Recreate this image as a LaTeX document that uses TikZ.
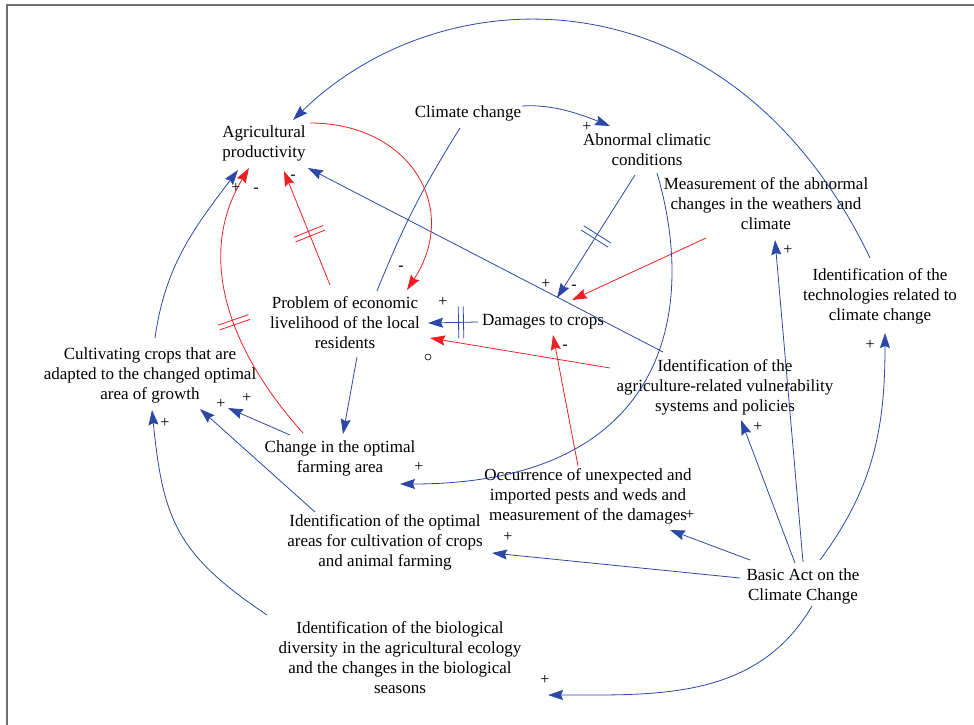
\documentclass[tikz,border=0pt]{standalone}
\usepackage{fontspec}
\setmainfont{Liberation Serif}
\usetikzlibrary{arrows.meta,decorations.markings}

\definecolor{linkblue}{RGB}{44,72,166}
\definecolor{linkred}{RGB}{236,32,36}
\definecolor{framegray}{RGB}{110,110,110}

\begin{document}
\begin{tikzpicture}[x=1pt,y=1pt,
    var/.style={align=center,inner sep=2pt,font=\fontsize{17}{20}\selectfont},
    poslink/.style={-{Stealth[length=15pt,width=10pt,inset=2pt]},linkblue,line width=0.8pt},
    neglink/.style={-{Stealth[length=15pt,width=10pt,inset=2pt]},linkred,line width=0.8pt},
    sign/.style={font=\fontsize{16}{16}\selectfont,inner sep=0pt},
    delay/.style={postaction={decorate,decoration={markings,mark=at position #1 with
        {\draw[-,line width=0.8pt] (-2.5pt,-16pt) -- (-2.5pt,16pt) (2.5pt,-16pt) -- (2.5pt,16pt);}}}}]
                \useasboundingbox (0,0) rectangle (974,-725);
                \draw[framegray,line width=1.2pt] (7,-725) -- (7,-5) -- (974,-5);
                \node[var](agri)at(264,-143){Agricultural\\productivity};
                \node[var](clim)at(468,-113){Climate change};
                \node[var](abn)at(647,-150){Abnormal climatic\\conditions};
                \node[var](meas)at(766,-204){Measurement of the abnormal\\changes in the weathers and\\climate};
                \node[var](tech)at(880,-296){Identification of the\\technologies related to\\climate change};
                \node[var](prob)at(345,-323){Problem of economic\\livelihood of the local\\residents};
                \node[var](dam)at(543,-322){Damages to crops};
                \node[var](cult)at(150,-375){Cultivating crops that are\\adapted to the changed optimal\\area of growth};
                \node[var](vuln)at(725,-387){Identification of the\\agriculture-related vulnerability\\systems and policies};
                \node[var](farm)at(340,-458){Change in the optimal\\farming area};
                \node[var](pest)at(588,-496){Occurrence of unexpected and\\imported pests and weds and\\measurement of the damages};
                \node[var](opt)at(385,-542){Identification of the optimal\\areas for cultivation of crops\\and animal farming};
                \node[var](act)at(803,-586){Basic Act on the\\Climate Change};
                \node[var](bio)at(400,-658){Identification of the biological\\diversity in the agricultural ecology\\and the changes in the biological\\seasons};
                \node[draw,circle,inner sep=0pt,minimum size=6pt,line width=0.6pt](knot)at(428,-357){};
                % links
                \draw[poslink] ([shift={(54,7)}]clim.center) .. controls +(30,2) and +(-30,12) .. ([shift={(-37,24)}]abn.center);
                \draw[poslink,-] ([shift={(-8,-15)}]clim.center) to[bend right=5] ([shift={(32,32)}]prob.center);
                \draw[poslink] ([shift={(12,-34)}]prob.center) -- ([shift={(3,24)}]farm.center);
                \draw[poslink,delay=0.5] ([shift={(-12,-25)}]abn.center) -- ([shift={(14,24)}]dam.center);
                \draw[neglink] ([shift={(-60,-34)}]meas.center) -- ([shift={(29,22)}]dam.center);
                \draw[poslink,delay=0.34] ([shift={(-65,0)}]dam.center) -- ([shift={(83,0)}]prob.center);
                \draw[neglink] ([shift={(-115,19)}]vuln.center) -- ([shift={(85,-15)}]prob.center);
                \draw[neglink] ([shift={(-10,30)}]pest.center) -- ([shift={(10,-13)}]dam.center);
                \draw[poslink] ([shift={(-62,35)}]vuln.center) -- ([shift={(44,-25)}]agri.center);
                \draw[neglink,delay=0.45] ([shift={(-15,38)}]prob.center) -- ([shift={(20,-28)}]agri.center);
                \draw[neglink,delay=0.45] ([shift={(-37,25)}]farm.center) .. controls +(-71,79) and +(-55,-91) .. ([shift={(-15,-25)}]agri.center);
                \draw[poslink] ([shift={(5,37)}]cult.center) .. controls +(10,72) and +(-44,-58) .. ([shift={(-26,-27)}]agri.center);
                \draw[neglink] ([shift={(46,20)}]agri.center) .. controls +(99,0) and +(54,83) .. ([shift={(62,33)}]prob.center);
                \draw[poslink] ([shift={(-50,23)}]farm.center) -- ([shift={(78,-33)}]cult.center);
                \draw[poslink] ([shift={(-70,30)}]opt.center) -- ([shift={(50,-34)}]cult.center);
                \draw[poslink] ([shift={(-133,43)}]bio.center) .. controls +(-91,61) and +(11,-109) .. ([shift={(2,-35)}]cult.center);
                \draw[poslink] ([shift={(-10,38)}]tech.center) .. controls +(-139,290) and +(152,148) .. ([shift={(29,23)}]agri.center);
                \draw[poslink] ([shift={(17,26)}]act.center) .. controls +(55,74) and +(0,-92) .. ([shift={(5,-37)}]tech.center);
                \draw[poslink] ([shift={(0,24)}]act.center) -- ([shift={(9,-36)}]meas.center);
                \draw[poslink] ([shift={(-8,23)}]act.center) -- ([shift={(16,-33)}]vuln.center);
                \draw[poslink] ([shift={(-53,26)}]act.center) -- ([shift={(82,-34)}]pest.center);
                \draw[poslink] ([shift={(-63,8)}]act.center) -- ([shift={(107,-11)}]opt.center);
                \draw[poslink] ([shift={(9,-20)}]act.center) .. controls +(-55,-94) and +(109,0) .. ([shift={(148,-37)}]bio.center);
                \draw[poslink] ([shift={(10,-23)}]abn.center) .. controls +(43,-147) and +(260,0) .. ([shift={(60,-26)}]farm.center);
                % polarities
                \node[sign](s1)at(587,-127){+};
                \node[sign](s2)at(236,-188){+};
                \node[sign](s3)at(256,-190){-};
                \node[sign](s4)at(293,-177){-};
                \node[sign](s5)at(401,-268){-};
                \node[sign](s6)at(546,-284){+};
                \node[sign](s7)at(574,-287){-};
                \node[sign](s8)at(443,-302){+};
                \node[sign](s9)at(565,-347){-};
                \node[sign](s10)at(788,-250){+};
                \node[sign](s11)at(870,-345){+};
                \node[sign](s12)at(758,-427){+};
                \node[sign](s13)at(221,-404){+};
                \node[sign](s14)at(247,-398){+};
                \node[sign](s15)at(165,-423){+};
                \node[sign](s16)at(419,-467){+};
                \node[sign](s17)at(690,-515){+};
                \node[sign](s18)at(508,-537){+};
                \node[sign](s19)at(545,-680){+};
\end{tikzpicture}
\end{document}
